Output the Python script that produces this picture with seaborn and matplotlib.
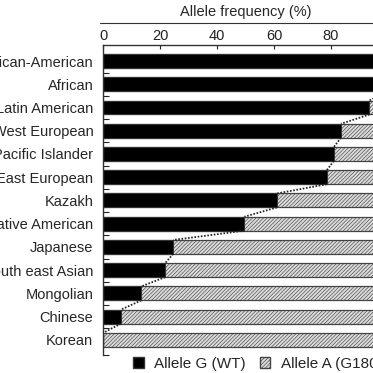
import seaborn as sns
import numpy as np
import pandas as pd
import matplotlib.pyplot as plt
from matplotlib.patches import Patch

populations = ["African-American", "African", "Latin American", "West European",
               "Pacific Islander", "East European", "Kazakh", "Native American",
               "Japanese", "South east Asian", "Mongolian", "Chinese", "Korean"]
allele_g = [100, 100, 93.5, 83.5, 81, 78.5, 61, 49.6, 24.6, 21.8, 13.4, 6.3, 0]
allele_a = [0, 0, 6.5, 16.5, 19, 21.5, 39, 50.4, 75.4, 78.2, 86.6, 93.7, 100]
xticks = [0, 20, 40, 60, 80, 100]

df = pd.DataFrame({"pop": populations, "G": allele_g, "A": allele_a})
df["total"] = df["G"] + df["A"]

sns.set_style("ticks")
plt.rcParams["font.family"] = ["Liberation Sans", "DejaVu Sans"]
plt.rcParams["hatch.linewidth"] = 0.45
plt.rcParams["hatch.color"] = "#7a7a7a"

fig = plt.figure(figsize=(3.73, 3.73), dpi=100)
ax = fig.add_axes([103 / 373, 1 - 355 / 373, 285 / 373, 310 / 373])

# hatched (allele A) as full bar behind, black (allele G) on top
sns.barplot(data=df, y="pop", x="total", order=populations, color="#dcdcdc",
            width=0.6, edgecolor="#444444", linewidth=0.9, hatch="/////////",
            saturation=1, ax=ax)
sns.barplot(data=df, y="pop", x="G", order=populations, color="black",
            width=0.6, edgecolor="#333333", linewidth=0.8, saturation=1, ax=ax)

# dotted line joining the G/A boundaries
for i in range(len(populations) - 1):
    ax.plot([allele_g[i], allele_g[i + 1]], [i + 0.3, i + 0.7],
            ls=(0, (0.9, 0.9)), color="#222222", lw=1.3, clip_on=False)

ax.set_xlim(0, 100)
ax.set_ylim(12.65, -0.69)
ax.xaxis.tick_top()
ax.xaxis.set_label_position("top")
ax.set_xticks(xticks)
ax.set_xlabel("Allele frequency (%)", fontsize=10.5, labelpad=9)
ax.set_ylabel("")
ax.tick_params(axis="x", direction="in", length=3, width=0.8, pad=1.5,
               labelsize=10.5, colors="#222222")
ax.tick_params(axis="y", which="major", length=0, pad=7, labelsize=10.5)
ax.set_yticks(np.arange(0.5, 12, 1).tolist() + [12.65], minor=True)
ax.tick_params(axis="y", which="minor", direction="in", length=4, width=0.8,
               color="#222222")
for s in ["right", "bottom"]:
    ax.spines[s].set_visible(False)
for s in ["left", "top"]:
    ax.spines[s].set_color("#333333")
    ax.spines[s].set_linewidth(1.0)

# rule under the axis title
ax.plot([-0.01, 1.1], [1.072, 1.072], transform=ax.transAxes, color="#333333",
        lw=0.8, clip_on=False)

handles = [Patch(facecolor="black", edgecolor="#333333", label="Allele G (WT)"),
           Patch(facecolor="#dcdcdc", edgecolor="#444444", hatch="/////////",
                 label="Allele A (G180R)")]
fig.legend(handles=handles, loc="center left", bbox_to_anchor=(133 / 373, 9 / 373),
           ncol=2, frameon=False, fontsize=11, handlelength=0.7,
           handleheight=0.7, handletextpad=0.7, columnspacing=0.9,
           borderaxespad=0, borderpad=0)

fig.savefig("out.png", dpi=100)
